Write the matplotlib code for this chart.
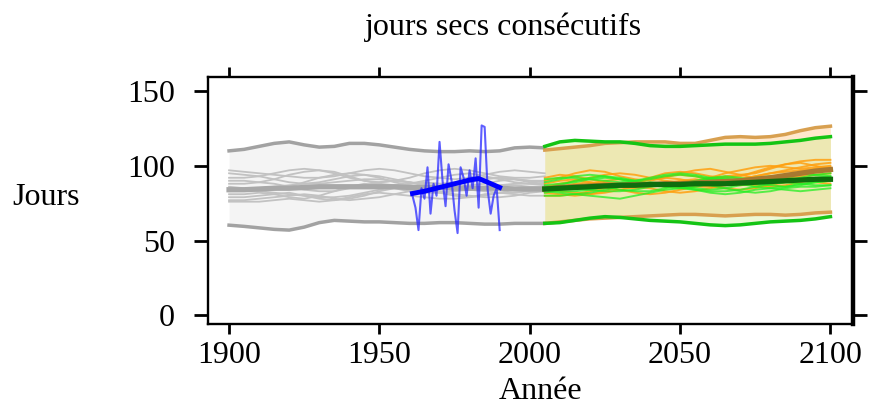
import numpy as np
import matplotlib
matplotlib.use("Agg")
import matplotlib.pyplot as plt
from matplotlib.transforms import Bbox

plt.rcParams['font.family'] = ['Liberation Serif', 'DejaVu Serif']

# --- data ---
hist_years = list(range(1900, 2006, 5))          # 22 points
fut_years = list(range(2005, 2101, 5))           # 20 points

hist_upper = [110, 111, 113, 115, 116, 114, 112.5, 113, 115, 115, 114, 112.5,
              111, 110, 109.5, 109.5, 110, 109.5, 110, 112, 112.5, 112]
hist_lower = [60.3, 59.5, 58.5, 57.5, 57, 59, 62, 63.5, 63, 62.5, 62.5, 62,
              61.5, 61.5, 62, 62, 61.5, 61, 61, 61.5, 61.5, 61.5]
hist_median = [84, 84, 84.5, 85, 85, 85.5, 86, 86, 86, 86, 86, 86,
               85.5, 85.5, 85.5, 85, 85, 85, 85, 84.5, 84.5, 84.5]

hist_members = [
    [97, 96, 95, 94, 93, 92, 92, 93, 95, 97, 98, 97, 95, 93, 92, 91, 92, 94, 96, 97, 96, 95],
    [92, 92, 93, 95, 97, 98, 97, 95, 92, 90, 89, 90, 92, 95, 97, 98, 97, 95, 93, 92, 92, 93],
    [88, 88, 89, 91, 94, 96, 97, 96, 93, 90, 88, 87, 88, 90, 92, 94, 95, 93, 91, 89, 88, 88],
    [86, 85, 84, 84, 86, 89, 92, 94, 95, 94, 92, 89, 87, 86, 86, 87, 89, 91, 92, 91, 89, 88],
    [83, 84, 85, 86, 87, 88, 89, 91, 93, 94, 93, 91, 89, 87, 86, 86, 87, 88, 90, 91, 90, 89],
    [81, 81, 82, 81, 79, 78, 80, 83, 86, 88, 87, 85, 83, 82, 82, 83, 84, 86, 87, 87, 86, 86],
    [79, 79, 80, 81, 82, 80, 78, 77, 78, 80, 83, 85, 86, 84, 82, 80, 79, 80, 82, 84, 85, 85],
    [77, 77, 78, 79, 80, 81, 80, 78, 77, 78, 79, 81, 83, 84, 83, 81, 80, 79, 79, 80, 82, 83],
    [76, 76, 76, 77, 78, 77, 76, 77, 79, 81, 82, 81, 80, 79, 78, 78, 79, 81, 82, 81, 80, 80],
    [84, 84, 83, 82, 81, 80, 79, 79, 80, 82, 84, 86, 88, 89, 88, 86, 84, 83, 82, 82, 83, 84],
    [90, 90, 89, 88, 86, 84, 83, 83, 85, 87, 89, 90, 89, 87, 85, 84, 84, 85, 87, 88, 88, 87],
    [95, 94, 93, 91, 89, 88, 88, 89, 90, 91, 91, 90, 89, 88, 88, 89, 91, 92, 92, 91, 90, 90],
]

obs_years = list(range(1961, 1991))
obs_values = [80, 72, 57, 85, 78, 99, 68, 88, 80, 116, 90, 73, 101, 90, 70,
              55, 99, 92, 80, 97, 85, 105, 72, 127, 126, 84, 68, 80, 85, 57]
obs_smooth_years = [1961, 1965, 1970, 1975, 1980, 1983, 1986, 1990]
obs_smooth = [81.5, 83, 85.5, 88, 90.5, 91.5, 89, 85.5]

orange_upper = [110.5, 111.5, 112.5, 113.5, 115, 115.5, 116, 116, 116, 115,
                115, 117, 119, 119.5, 119, 119.5, 121, 123.5, 125.5, 126.5]
orange_lower = [61.5, 62.5, 63.5, 64.5, 65, 65.5, 66, 66.5, 67, 67.5,
                67.5, 67, 66.5, 67, 67.5, 67.5, 67, 67.5, 68.5, 69]
orange_median = [84.5, 85.5, 86, 86.5, 87, 87, 87.5, 87.5, 88, 88,
                 88.5, 89, 89.5, 90, 91, 92, 93.5, 95, 96.5, 97.5]
green_upper = [113, 116, 117, 116.5, 116, 116, 115, 113.5, 113, 113,
               113.5, 114, 114.5, 114.5, 114.5, 115, 116, 117, 118.5, 119.5]
green_lower = [61.5, 62, 63.5, 65, 66, 65.5, 64.5, 63.5, 63, 62.5,
               61.5, 60.5, 60, 60.5, 61.5, 62.5, 63, 63.5, 64.5, 66]
green_median = [84.5, 85, 85.5, 86, 86.5, 87, 87, 87.5, 87.5, 87.5,
                88, 88, 88, 88.5, 89, 89.5, 90, 90.5, 91, 91]

orange_members = [
    [90, 92, 95, 97, 96, 93, 91, 90, 92, 95, 97, 98, 96, 94, 95, 98, 101, 103, 104, 104],
    [86, 88, 90, 92, 94, 95, 94, 92, 90, 89, 90, 92, 95, 97, 99, 100, 99, 98, 99, 100],
    [84, 83, 82, 81, 83, 86, 89, 91, 92, 91, 89, 88, 89, 91, 93, 95, 96, 97, 98, 99],
    [82, 81, 80, 81, 82, 84, 86, 85, 83, 82, 83, 85, 87, 88, 87, 86, 87, 89, 91, 92],
    [88, 90, 91, 89, 87, 86, 88, 91, 93, 94, 93, 91, 90, 91, 93, 95, 97, 99, 101, 102],
    [80, 80, 81, 83, 85, 84, 82, 81, 82, 84, 86, 86, 85, 84, 85, 87, 89, 90, 89, 88],
    [92, 94, 93, 91, 89, 88, 89, 92, 95, 96, 95, 93, 92, 93, 96, 99, 101, 102, 100, 98],
    [85, 86, 88, 89, 88, 86, 85, 86, 88, 90, 91, 90, 88, 87, 88, 90, 92, 93, 94, 95],
    [83, 84, 86, 88, 90, 91, 90, 88, 86, 86, 88, 91, 93, 94, 92, 91, 92, 94, 96, 97],
]
green_members = [
    [89, 91, 93, 94, 93, 91, 90, 91, 93, 94, 93, 91, 90, 91, 92, 93, 92, 91, 92, 93],
    [85, 87, 90, 92, 93, 92, 90, 88, 87, 88, 90, 92, 93, 92, 90, 89, 90, 92, 94, 95],
    [83, 82, 81, 82, 84, 86, 88, 89, 88, 86, 85, 84, 85, 87, 88, 87, 86, 87, 89, 90],
    [80, 80, 81, 80, 79, 78, 80, 82, 84, 85, 84, 82, 81, 82, 84, 85, 84, 83, 84, 85],
    [87, 88, 89, 91, 92, 91, 89, 87, 86, 87, 89, 91, 92, 91, 89, 88, 89, 90, 91, 92],
    [82, 84, 86, 87, 86, 84, 83, 83, 85, 87, 88, 87, 85, 83, 82, 83, 85, 86, 86, 87],
    [91, 92, 92, 91, 90, 89, 90, 92, 94, 95, 94, 92, 91, 90, 91, 92, 94, 95, 94, 93],
    [84, 83, 83, 84, 86, 88, 89, 88, 86, 85, 86, 88, 89, 88, 86, 85, 86, 88, 89, 90],
    [86, 86, 85, 84, 83, 83, 84, 86, 87, 86, 84, 83, 83, 84, 86, 88, 89, 88, 87, 87],
]

x_ticks = [1900, 1950, 2000, 2050, 2100]
y_ticks = [0, 50, 100, 150]

# --- figure ---
fig = plt.figure(figsize=(8.78, 4.07), dpi=100)
ax = fig.add_axes([208 / 878, 1 - 324 / 407, 645 / 878, 247 / 407])

# bands
ax.fill_between(hist_years, hist_lower, hist_upper, color='#F4F4F4', lw=0, zorder=1)
ax.fill_between(fut_years, orange_lower, orange_upper, color='#FF8C00', alpha=0.2, lw=0, zorder=1)
ax.fill_between(fut_years, green_lower, green_upper, color='#C6E87A', alpha=0.3, lw=0, zorder=1)

# members
for m in hist_members:
    ax.plot(hist_years, m, color='#C2C2C2', lw=1.3, zorder=2)
for m in orange_members:
    ax.plot(fut_years, m, color='#FFA010', lw=1.4, alpha=0.85, zorder=2)
for m in green_members:
    ax.plot(fut_years, m, color='#22EE22', lw=1.4, alpha=0.75, zorder=2)

# limits and medians
ax.plot(hist_years, hist_upper, color='#A2A2A2', lw=2.5, zorder=3)
ax.plot(hist_years, hist_lower, color='#A2A2A2', lw=2.5, zorder=3)
ax.plot(hist_years, hist_median, color='#A8A8A8', lw=3.8, zorder=3)

ax.plot(fut_years, orange_upper, color='#D8A050', lw=2.5, zorder=3)
ax.plot(fut_years, orange_lower, color='#D8A050', lw=2.5, zorder=3)
ax.plot(fut_years, green_upper, color='#14C414', lw=2.5, zorder=3)
ax.plot(fut_years, green_lower, color='#14C414', lw=2.5, zorder=3)
ax.plot(fut_years, orange_median, color='#A87830', lw=3.8, zorder=4)
ax.plot(fut_years, green_median, color='#0E6E0E', lw=3.8, zorder=4)

# observations
ax.plot(obs_years, obs_values, color='#2828FF', lw=1.5, alpha=0.75, zorder=5)
ax.plot(obs_smooth_years, obs_smooth, color='#0000FF', lw=3.5, zorder=6)

ax.set_xlim(1893.0, 2107.5)
ax.set_ylim(-5.8, 159.4)
ax.set_xticks(x_ticks)
ax.set_yticks(y_ticks)
ax.tick_params(axis='both', which='major', direction='out', width=2.0,
               labelsize=23, colors='black', top=True, right=True,
               labeltop=False, labelright=False)
ax.tick_params(axis='x', length=7, pad=5)
ax.tick_params(axis='y', length=10, pad=14)
for side in ['left', 'top', 'bottom']:
    ax.spines[side].set_linewidth(1.7)
ax.spines['right'].set_linewidth(3.2)

fig.text(504 / 878, 1 - 27 / 407, 'jours secs consécutifs', ha='center', va='center', fontsize=23)
fig.text(541 / 878, 1 / 407, 'Année', ha='center', va='bottom', fontsize=23)
jl = fig.text(12 / 878, 1 - 197 / 407, 'Jours', ha='left', va='center', fontsize=23)
jl.set_clip_box(Bbox([[0, 0], [86, 407]]))
jl.set_clip_on(True)

fig.savefig('out.png', dpi=100)
